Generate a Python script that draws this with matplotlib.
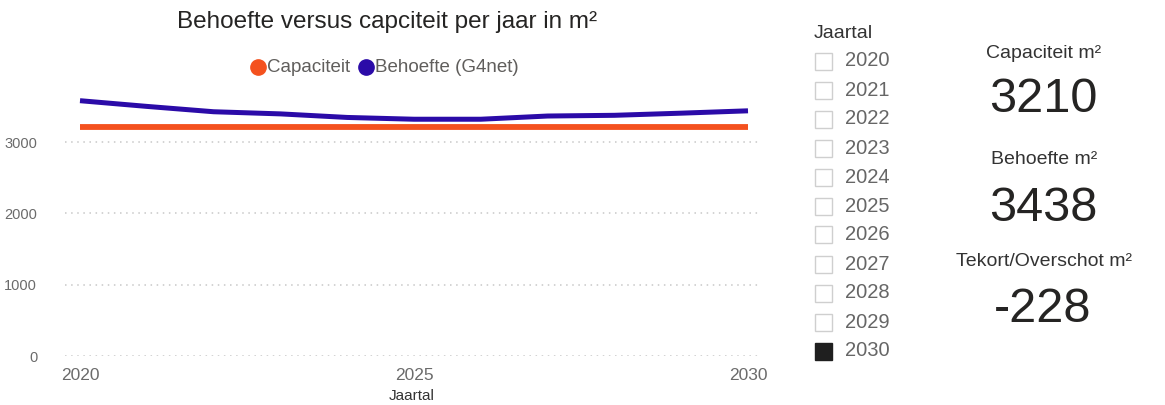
import matplotlib
matplotlib.use("Agg")
import matplotlib.pyplot as plt
from matplotlib.patches import Rectangle
from matplotlib.lines import Line2D

plt.rcParams['font.family'] = ['Liberation Sans', 'DejaVu Sans']

# Data
years = [2020, 2021, 2022, 2023, 2024, 2025, 2026, 2027, 2028, 2029, 2030]
capaciteit = [3210, 3210, 3210, 3210, 3210, 3210, 3210, 3210, 3210, 3210, 3210]
behoefte = [3580, 3500, 3425, 3395, 3345, 3320, 3320, 3365, 3375, 3405, 3438]
y_ticks = [0, 1000, 2000, 3000]
x_ticks = [2020, 2025, 2030]
slicer_years = [str(y) for y in years]
selected_year = "2030"
kpi_titles = ["Capaciteit m²", "Behoefte m²", "Tekort/Overschot m²"]
kpi_values = [3210, 3438, -228]

ORANGE = "#F4511E"
BLUE = "#2B0BA8"

W, H = 1165, 405
fig = plt.figure(figsize=(W / 100, H / 100), dpi=100)
fig.patch.set_facecolor("white")


def fx(px):
    return px / W


def fy(py):
    return 1 - py / H


# Line chart axes
left_px, right_px = 65, 758
bottom_px, top_px = 356, 85
ax = fig.add_axes([fx(left_px), fy(bottom_px), fx(right_px - left_px), (bottom_px - top_px) / H])
ax.plot(years, capaciteit, color=ORANGE, lw=4.2, solid_capstyle="butt", zorder=3)
ax.plot(years, behoefte, color=BLUE, lw=3.6, solid_joinstyle="round",
        solid_capstyle="butt", zorder=4)

ax.set_xlim(2020 - 15 / 66.8, 2030 + 10 / 66.8)
ax.set_ylim(0, 3800)
ax.set_yticks(y_ticks)
ax.set_yticklabels([str(v) for v in y_ticks])
ax.set_xticks(x_ticks)
ax.set_xticklabels([str(v) for v in x_ticks])
ax.tick_params(axis="y", length=0, pad=20, labelsize=10.5, labelcolor="#6b6b6b")
ax.tick_params(axis="x", length=0, pad=9, labelsize=12.5, labelcolor="#6b6b6b")
for s in ax.spines.values():
    s.set_visible(False)
ax.grid(axis="y", color="#c8c8c8", linestyle=(0, (1, 3)), lw=1.1)
ax.set_axisbelow(True)
ax.set_xlabel("Jaartal", fontsize=11, color="#333333", labelpad=4)

# Title and legend
fig.text(fx(387), fy(22), "Behoefte versus capciteit per jaar in m²",
         ha="center", va="center", fontsize=17.5, color="#252423")
for cx, tx, col, lab in [(258, 267, ORANGE, "Capaciteit"), (366, 375, BLUE, "Behoefte (G4net)")]:
    fig.add_artist(Line2D([fx(cx)], [fy(67)], transform=fig.transFigure, marker="o",
                          markersize=11, color=col, linestyle="none"))
    fig.text(fx(tx), fy(67), lab, ha="left", va="center", fontsize=13.5, color="#605E5C")

# Year slicer
fig.text(fx(814), fy(33), "Jaartal", ha="left", va="center", fontsize=14, color="#333333")
for i, label in enumerate(slicer_years):
    cy = 61 + i * 29
    selected = label == selected_year
    box = Rectangle((fx(815), fy(cy + 8.5)), fx(17), 17 / H, transform=fig.transFigure,
                    facecolor="#1f1f1f" if selected else "white",
                    edgecolor="#1f1f1f" if selected else "#cfcfcf", lw=1.0)
    fig.add_artist(box)
    fig.text(fx(845), fy(cy), label, ha="left", va="center", fontsize=14.5, color="#666666")

# KPI cards
title_y = [53, 160, 262]
value_y = [99, 208, 309]
for t, v, ty, vy in zip(kpi_titles, kpi_values, title_y, value_y):
    fig.text(fx(1044), fy(ty), t, ha="center", va="center", fontsize=14, color="#333333")
    fig.text(fx(1043), fy(vy), f"{v}", ha="center", va="center", fontsize=35, color="#252423")

fig.savefig("out.png", dpi=100, facecolor="white")
